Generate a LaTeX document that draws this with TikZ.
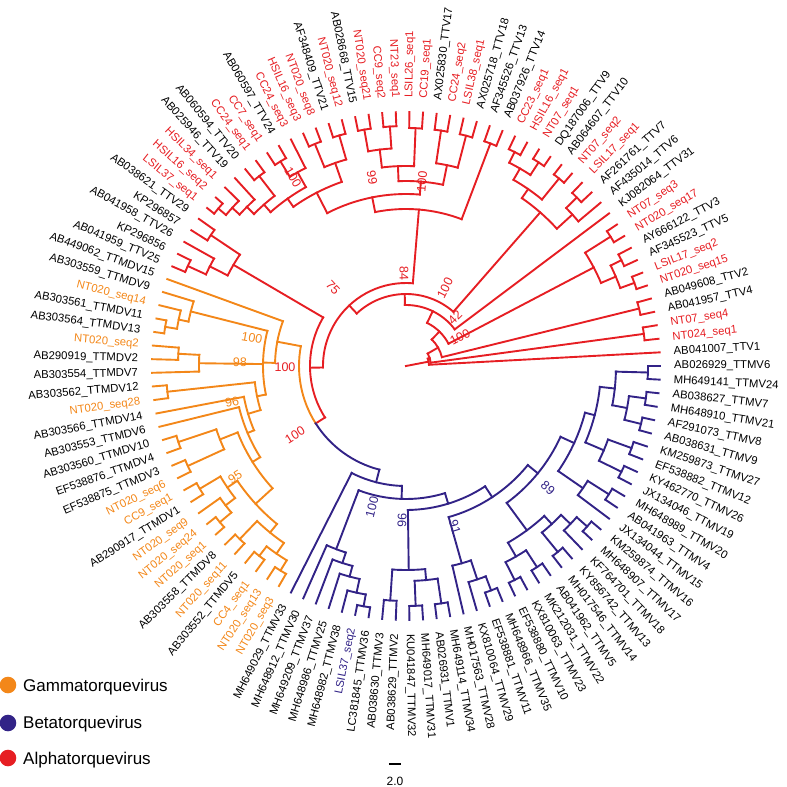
\documentclass[tikz,border=0pt]{standalone}
\usepackage{fontspec}
\setmainfont{Liberation Sans}
\definecolor{cR}{RGB}{230,30,35}
\definecolor{cO}{RGB}{243,135,25}
\definecolor{cB}{RGB}{50,35,135}
\def\dd{3.0769231}
\def\RT{254}
\def\RL{268}
\newcommand\rd[3]{\draw ({(#1)*\dd}:#2pt) -- ({(#1)*\dd}:#3pt);}
\newcommand\ac[3]{\draw ({(#2)*\dd}:#1pt) arc[start angle={(#2)*\dd}, end angle={(#3)*\dd}, radius=#1pt];}
\newcommand\nd[5]{\rd{#1}{#2}{#3}\ac{#3}{#4}{#5}}
\newcommand\lf[2]{\rd{#1}{#2}{\RT}}
\newcommand\pr[3]{\nd{#1+0.5}{#2}{#3}{#1}{#1+1}\lf{#1}{#3}\lf{#1+1}{#3}}
\newcommand\LR[3]{\node[lab,text=#2,anchor=west,rotate={#1*\dd}] (t#1) at ({#1*\dd}:\RL pt) {#3};}
\newcommand\LL[3]{\node[lab,text=#2,anchor=east,rotate={#1*\dd-180}] (t#1) at ({#1*\dd}:\RL pt) {#3};}
\tikzset{lab/.style={inner sep=0pt,font=\fontsize{11.3pt}{13pt}\selectfont},
 bst/.style={inner sep=0pt,font=\fontsize{12.5pt}{14pt}\selectfont},
 br/.style={line width=1.9pt,line cap=rect}}
\begin{document}
\begin{tikzpicture}
\useasboundingbox (-406pt,-421pt) rectangle (381pt,366pt);
% ---------- node indices ----------
\pgfmathsetmacro\iQa{7.5}
\pgfmathsetmacro\iK{(\iQa+10.5)/2}
\pgfmathsetmacro\iSa{(13+14.5)/2}
\pgfmathsetmacro\iSbb{19.5}
\pgfmathsetmacro\iSb{(16.5+\iSbb)/2}
\pgfmathsetmacro\iSone{(\iSa+\iSb)/2}
\pgfmathsetmacro\iCa{25.5}
\pgfmathsetmacro\iCc{31.5}
\pgfmathsetmacro\iCb{(28.5+\iCc)/2}
\pgfmathsetmacro\iCab{(\iCa+\iCb)/2}
\pgfmathsetmacro\iCd{35.5}
\pgfmathsetmacro\iCe{(38+39.5)/2}
\pgfmathsetmacro\iCh{(44+45.5)/2}
\pgfmathsetmacro\iCg{(43+\iCh)/2}
\pgfmathsetmacro\iCf{(41.5+\iCg)/2}
\pgfmathsetmacro\iCef{(\iCe+\iCf)/2}
\pgfmathsetmacro\iHb{(\iCd+\iCef)/2}
\pgfmathsetmacro\iNn{(\iCab+\iHb)/2}
\pgfmathsetmacro\iStwo{(22.5+\iNn)/2}
\pgfmathsetmacro\iSc{(49+50.5)/2}
\pgfmathsetmacro\iSthree{(47.5+\iSc)/2}
\pgfmathsetmacro\iUb{(54+55.5)/2}
\pgfmathsetmacro\iU{(53+\iUb)/2}
\pgfmathsetmacro\iM{(57.5+59)/2}
\pgfmathsetmacro\iGa{65.5}
\pgfmathsetmacro\iGc{(70+71.5)/2}
\pgfmathsetmacro\iGb{(68.5+\iGc)/2}
\pgfmathsetmacro\iGd{(73.5+76.5)/2}
\pgfmathsetmacro\iQ{(\iGb+\iGd)/2}
\pgfmathsetmacro\iDf{(\iGa+\iQ)/2}
\pgfmathsetmacro\iDt{(63+\iDf)/2}
\pgfmathsetmacro\iDs{(62+\iDt)/2}
\pgfmathsetmacro\iD{(60.5+\iDs)/2}
\pgfmathsetmacro\iGn{(\iU+\iD)/2}
\pgfmathsetmacro\iG{(52+\iGn)/2}
\pgfmathsetmacro\iBd{(83+84.5)/2}
\pgfmathsetmacro\iBc{(82+\iBd)/2}
\pgfmathsetmacro\iBb{(81+\iBc)/2}
\pgfmathsetmacro\iBt{(80+\iBb)/2}
\pgfmathsetmacro\iNt{(86.5+89.5)/2}
\pgfmathsetmacro\iXc{(93+94.5)/2}
\pgfmathsetmacro\iXb{(92+\iXc)/2}
\pgfmathsetmacro\iEb{(102+103.5)/2}
\pgfmathsetmacro\iEa{(100.5+\iEb)/2}
\pgfmathsetmacro\iNa{(97.5+\iEa)/2}
\pgfmathsetmacro\iFa{(105+106.5)/2}
\pgfmathsetmacro\iFc{(113.5+116.5)/2}
\pgfmathsetmacro\iFb{(109.5+\iFc)/2}
\pgfmathsetmacro\iNb{(\iFa+\iFb)/2}
\pgfmathsetmacro\iNe{(\iNa+\iNb)/2}
\pgfmathsetmacro\iBf{(\iXb+\iNe)/2}
\pgfmathsetmacro\iBfour{(\iNt+\iBf)/2}
\pgfmathsetmacro\iBtwo{(\iBt+\iBfour)/2}
\pgfmathsetmacro\iB{(79+\iBtwo)/2}
\pgfmathsetmacro\iZ{(\iG+\iB)/2}
\pgfmathsetmacro\iY{(\iSthree+\iZ)/2}
\pgfmathsetmacro\iX{(\iStwo+\iY)/2}
\pgfmathsetmacro\iW{(\iSone+\iX)/2}
\pgfmathsetmacro\iV{(12+\iW)/2}
\pgfmathsetmacro\iAt{(\iK+\iV)/2}
\pgfmathsetmacro\iAs{(4.5+\iAt)/2}
\pgfmathsetmacro\iAo{(2.5+\iAs)/2}
\pgfmathsetmacro\iNz{(1+\iAo)/2}
% ---------- Alpha ----------
\begin{scope}[br,cR]
\rd{\iNz}{0}{23}
\ac{23}{1}{\iAo} \lf{1}{23}
\rd{\iAo}{23}{25} \ac{25}{2.5}{\iAs} \pr{2}{25}{240}
\rd{\iAs}{25}{37} \ac{37}{4.5}{\iAt} \pr{4}{37}{240}
\rd{\iAt}{37}{48} \ac{48}{\iK}{\iV}
\nd{\iK}{48}{212}{\iQa}{10.5}
\nd{\iQa}{212}{228}{6.5}{8.5} \pr{6}{228}{243} \pr{8}{228}{240}
\pr{10}{212}{242}
\nd{\iV}{48}{61}{12}{\iW} \lf{12}{61}
\nd{\iW}{61}{72}{\iSone}{\iX}
\nd{\iSone}{72}{204}{\iSa}{\iSb}
\nd{\iSa}{204}{225}{13}{14.5} \lf{13}{225} \pr{14}{225}{240}
\nd{\iSb}{204}{215}{16.5}{\iSbb} \pr{16}{215}{242}
\nd{\iSbb}{215}{228}{18.5}{20.5} \pr{18}{228}{243} \pr{20}{228}{240}
\nd{\iX}{72}{83}{\iStwo}{\iY}
\nd{\iStwo}{83}{157}{22.5}{\iNn} \pr{22}{157}{238}
\nd{\iNn}{157}{172}{\iCab}{\iHb}
\nd{\iCab}{172}{185}{\iCa}{\iCb}
\nd{\iCa}{185}{205}{24.5}{26.5} \pr{24}{205}{238} \pr{26}{205}{238}
\nd{\iCb}{185}{200}{28.5}{\iCc} \pr{28}{200}{238}
\nd{\iCc}{200}{218}{30.5}{32.5} \pr{30}{218}{240} \pr{32}{218}{240}
\nd{\iHb}{172}{195}{\iCd}{\iCef}
\nd{\iCd}{195}{215}{34.5}{36.5} \pr{34}{215}{240} \pr{36}{215}{240}
\nd{\iCef}{195}{205}{\iCe}{\iCf}
\nd{\iCe}{205}{222}{38}{39.5} \lf{38}{222} \pr{39}{222}{240}
\nd{\iCf}{205}{215}{41.5}{\iCg} \pr{41}{215}{240}
\nd{\iCg}{215}{225}{43}{\iCh} \lf{43}{225}
\nd{\iCh}{225}{235}{44}{45.5} \lf{44}{235} \pr{45}{235}{245}
\nd{\iY}{83}{96}{\iSthree}{\iZ}
\nd{\iSthree}{96}{200}{47.5}{\iSc} \pr{47}{200}{235}
\nd{\iSc}{200}{220}{49}{50.5} \lf{49}{220} \pr{50}{220}{240}
\rd{\iZ}{96}{107}
\end{scope}
% ---------- Gamma ----------
\begin{scope}[br,cO]
\ac{107}{\iZ}{\iG}
\nd{\iG}{107}{131}{52}{\iGn} \lf{52}{131}
\nd{\iGn}{131}{143}{\iU}{\iD}
\nd{\iU}{143}{222}{53}{\iUb} \lf{53}{222}
\nd{\iUb}{222}{232}{54}{55.5} \lf{54}{232} \pr{55}{232}{244}
\nd{\iM}{143}{207}{57.5}{59} \pr{57}{207}{228} \lf{59}{207}
\nd{\iD}{143}{152}{60.5}{\iDs} \pr{60}{152}{240}
\nd{\iDs}{152}{165}{62}{\iDt} \lf{62}{165}
\nd{\iDt}{165}{172}{63}{\iDf} \lf{63}{172}
\nd{\iDf}{172}{181}{\iGa}{\iQ}
\nd{\iGa}{181}{200}{64.5}{66.5} \pr{64}{200}{240} \pr{66}{200}{240}
\nd{\iQ}{181}{204}{\iGb}{\iGd}
\nd{\iGb}{204}{216}{68.5}{\iGc} \pr{68}{216}{240}
\nd{\iGc}{216}{228}{70}{71.5} \lf{70}{228} \pr{71}{228}{243}
\nd{\iGd}{204}{215}{73.5}{76.5} \pr{73}{215}{240}
\nd{76.5}{215}{228}{75.5}{77.5} \pr{75}{228}{240} \pr{77}{228}{240}
\end{scope}
% ---------- Beta ----------
\begin{scope}[br,cB]
\ac{107}{\iZ}{\iB}
\nd{\iB}{107}{120}{79}{\iBtwo} \lf{79}{120}
\nd{\iBtwo}{120}{133}{\iBt}{\iBfour}
\nd{\iBt}{133}{196}{80}{\iBb} \lf{80}{196}
\nd{\iBb}{196}{207}{81}{\iBc} \lf{81}{207}
\nd{\iBc}{207}{218}{82}{\iBd} \lf{82}{218}
\nd{\iBd}{218}{232}{83}{84.5} \lf{83}{232} \pr{84}{232}{244}
\nd{\iBfour}{133}{144}{\iNt}{\iBf}
\nd{\iNt}{144}{204}{86.5}{89.5} \pr{86}{204}{235}
\nd{89.5}{204}{215}{88.5}{90.5} \pr{88}{215}{240} \pr{90}{215}{240}
\nd{\iBf}{144}{157}{\iXb}{\iNe}
\nd{\iXb}{157}{205}{92}{\iXc} \lf{92}{205}
\nd{\iXc}{205}{225}{93}{94.5} \lf{93}{225} \pr{94}{225}{240}
\nd{\iNe}{157}{170}{\iNa}{\iNb}
\nd{\iNa}{170}{204}{97.5}{\iEa}
\nd{97.5}{204}{220}{96.5}{98.5} \pr{96}{220}{240} \pr{98}{220}{240}
\nd{\iEa}{204}{215}{100.5}{\iEb} \pr{100}{215}{240}
\nd{\iEb}{215}{228}{102}{103.5} \lf{102}{228} \pr{103}{228}{242}
\nd{\iNb}{170}{185}{\iFa}{\iFb}
\nd{\iFa}{185}{215}{105}{106.5} \lf{105}{215} \pr{106}{215}{240}
\nd{\iFb}{185}{195}{109.5}{\iFc}
\nd{109.5}{195}{215}{108.5}{110.5} \pr{108}{215}{240} \pr{110}{215}{240}
\nd{\iFc}{195}{210}{113.5}{116.5}
\nd{113.5}{210}{225}{112.5}{114.5} \pr{112}{225}{242} \pr{114}{225}{242}
\pr{116}{210}{242}
\end{scope}
% ---------- leaf labels ----------
\LR{1}{black}{AB041007\_TTV1}
\LR{2}{cR}{NT024\_seq1}
\LR{3}{cR}{NT07\_seq4}
\LR{4}{black}{AB041957\_TTV4}
\LR{5}{black}{AB049608\_TTV2}
\LR{6}{cR}{NT020\_seq15}
\LR{7}{cR}{LSIL17\_seq2}
\LR{8}{black}{AF345523\_TTV5}
\LR{9}{black}{AY666122\_TTV3}
\LR{10}{cR}{NT020\_seq17}
\LR{11}{cR}{NT07\_seq3}
\LR{12}{black}{KJ082064\_TTV31}
\LR{13}{black}{AF435014\_TTV6}
\LR{14}{black}{AF261761\_TTV7}
\LR{15}{cR}{LSIL17\_seq1}
\LR{16}{cR}{NT07\_seq2}
\LR{17}{black}{AB064607\_TTV10}
\LR{18}{black}{DQ187006\_TTV9}
\LR{19}{cR}{NT07\_seq1}
\LR{20}{cR}{HSIL16\_seq1}
\LR{21}{cR}{CC23\_seq1}
\LR{22}{black}{AB037926\_TTV14}
\LR{23}{black}{AF345526\_TTV13}
\LR{24}{black}{AX025718\_TTV18}
\LR{25}{cR}{LSIL38\_seq1}
\LR{26}{cR}{CC24\_seq2}
\LR{27}{black}{AX025830\_TTV17}
\LR{28}{cR}{CC19\_seq1}
\LR{29}{cR}{LSIL26\_seq1}
\LL{30}{cR}{NT23\_seq1}
\LL{31}{cR}{CC9\_seq2}
\LL{32}{cR}{NT020\_seq21}
\LL{33}{black}{AB028668\_TTV15}
\LL{34}{cR}{NT020\_seq12}
\LL{35}{black}{AF348409\_TTV21}
\LL{36}{cR}{NT020\_seq8}
\LL{37}{cR}{HSIL16\_seq3}
\LL{38}{cR}{CC24\_seq3}
\LL{39}{black}{AB060597\_TTV24}
\LL{40}{cR}{CC7\_seq1}
\LL{41}{cR}{CC24\_seq1}
\LL{42}{black}{AB060594\_TTV20}
\LL{43}{black}{AB025946\_TTV19}
\LL{44}{cR}{HSIL34\_seq1}
\LL{45}{cR}{HSIL16\_seq2}
\LL{46}{cR}{LSIL37\_seq1}
\LL{47}{black}{AB038621\_TTV29}
\LL{48}{black}{KP296857}
\LL{49}{black}{AB041958\_TTV26}
\LL{50}{black}{KP296856}
\LL{51}{black}{AB041959\_TTV25}
\LL{52}{black}{AB449062\_TTMDV15}
\LL{53}{black}{AB303559\_TTMDV9}
\LL{54}{cO}{NT020\_seq14}
\LL{55}{black}{AB303561\_TTMDV11}
\LL{56}{black}{AB303564\_TTMDV13}
\LL{57}{cO}{NT020\_seq2}
\LL{58}{black}{AB290919\_TTMDV2}
\LL{59}{black}{AB303554\_TTMDV7}
\LL{60}{black}{AB303562\_TTMDV12}
\LL{61}{cO}{NT020\_seq28}
\LL{62}{black}{AB303566\_TTMDV14}
\LL{63}{black}{AB303553\_TTMDV6}
\LL{64}{black}{AB303560\_TTMDV10}
\LL{65}{black}{EF538876\_TTMDV4}
\LL{66}{black}{EF538875\_TTMDV3}
\LL{67}{cO}{NT020\_seq6}
\LL{68}{cO}{CC9\_seq1}
\LL{69}{black}{AB290917\_TTMDV1}
\LL{70}{cO}{NT020\_seq9}
\LL{71}{cO}{NT020\_seq24}
\LL{72}{cO}{NT020\_seq1}
\LL{73}{black}{AB303558\_TTMDV8}
\LL{74}{cO}{NT020\_seq11}
\LL{75}{black}{AB303552\_TTMDV5}
\LL{76}{cO}{CC4\_seq1}
\LL{77}{cO}{NT020\_seq13}
\LL{78}{cO}{NT020\_seq3}
\LL{79}{black}{MH649029\_TTMV33}
\LL{80}{black}{MH648912\_TTMV30}
\LL{81}{black}{MH649209\_TTMV37}
\LL{82}{black}{MH648986\_TTMV25}
\LL{83}{black}{MH648982\_TTMV38}
\LL{84}{cB}{LSIL37\_seq2}
\LL{85}{black}{LC381845\_TTMV36}
\LL{86}{black}{AB038630\_TTMV3}
\LL{87}{black}{AB038629\_TTMV2}
\LR{88}{black}{KU041847\_TTMV32}
\LR{89}{black}{MH649017\_TTMV31}
\LR{90}{black}{AB026931\_TTMV1}
\LR{91}{black}{MH649114\_TTMV34}
\LR{92}{black}{MH017563\_TTMV28}
\LR{93}{black}{KX810064\_TTMV29}
\LR{94}{black}{EF538881\_TTMV11}
\LR{95}{black}{MH648966\_TTMV35}
\LR{96}{black}{EF538880\_TTMV10}
\LR{97}{black}{KX810063\_TTMV23}
\LR{98}{black}{MK212031\_TTMV22}
\LR{99}{black}{AB041962\_TTMV5}
\LR{100}{black}{MH017546\_TTMV14}
\LR{101}{black}{KY856742\_TTMV13}
\LR{102}{black}{KF764701\_TTMV18}
\LR{103}{black}{MH648907\_TTMV17}
\LR{104}{black}{KM259874\_TTMV16}
\LR{105}{black}{JX134044\_TTMV15}
\LR{106}{black}{AB041963\_TTMV4}
\LR{107}{black}{MH648989\_TTMV20}
\LR{108}{black}{JX134046\_TTMV19}
\LR{109}{black}{KY462770\_TTMV26}
\LR{110}{black}{EF538882\_TTMV12}
\LR{111}{black}{KM259873\_TTMV27}
\LR{112}{black}{AB038631\_TTMV9}
\LR{113}{black}{AF291073\_TTMV8}
\LR{114}{black}{MH648910\_TTMV21}
\LR{115}{black}{AB038627\_TTMV7}
\LR{116}{black}{MH649141\_TTMV24}
\LR{117}{black}{AB026929\_TTMV6}
% ---------- bootstrap values, legend, scale (image coordinates) ----------
\begin{scope}[shift={(-406pt,366pt)},x=1pt,y=-1pt]
\node[bst,text=cR,rotate=-59] (b1) at (293,177) {100};
\node[bst,text=cR,rotate=-80] (b2) at (372,178) {99};
\node[bst,text=cR,rotate=85] (b3) at (422,182) {100};
\node[bst,text=cR,rotate=-89] (b4) at (404,273) {84};
\node[bst,text=cR,rotate=-47] (b5) at (333,288) {75};
\node[bst,text=cR,rotate=63] (b6) at (445,288) {100};
\node[bst,text=cR,rotate=45] (b7) at (455,317) {42};
\node[bst,text=cR,rotate=28] (b8) at (460,337) {100};
\node[bst,text=cR,rotate=0] (b9) at (285,367) {100};
\node[bst,text=cO,rotate=-10] (b10) at (252,338) {100};
\node[bst,text=cO,rotate=-1] (b11) at (240,362) {98};
\node[bst,text=cO,rotate=12] (b12) at (232,402) {96};
\node[bst,text=cO,rotate=33] (b13) at (235,477) {95};
\node[bst,text=cR,rotate=32] (b14) at (295,435) {100};
\node[bst,text=cB,rotate=76] (b15) at (372,507) {100};
\node[bst,text=cB,rotate=88] (b16) at (402,520) {96};
\node[bst,text=cB,rotate=-73] (b17) at (455,527) {91};
\node[bst,text=cB,rotate=-41] (b18) at (548,488) {89};
\fill[cO] (8,685) circle (8.3pt);
\fill[cB] (8,723) circle (8.3pt);
\fill[cR] (8,758) circle (8.3pt);
\node[anchor=west,inner sep=0pt,font=\fontsize{17pt}{20pt}\selectfont] (lg1) at (23,687) {Gammatorquevirus};
\node[anchor=west,inner sep=0pt,font=\fontsize{17pt}{20pt}\selectfont] (lg2) at (23,724) {Betatorquevirus};
\node[anchor=west,inner sep=0pt,font=\fontsize{17pt}{20pt}\selectfont] (lg3) at (23,760) {Alphatorquevirus};
\draw[line width=1.5pt] (389,764) -- (401,764);
\node[inner sep=0pt,font=\fontsize{12pt}{14pt}\selectfont] (sc) at (395,781) {2.0};
\end{scope}
\end{tikzpicture}
\end{document}
